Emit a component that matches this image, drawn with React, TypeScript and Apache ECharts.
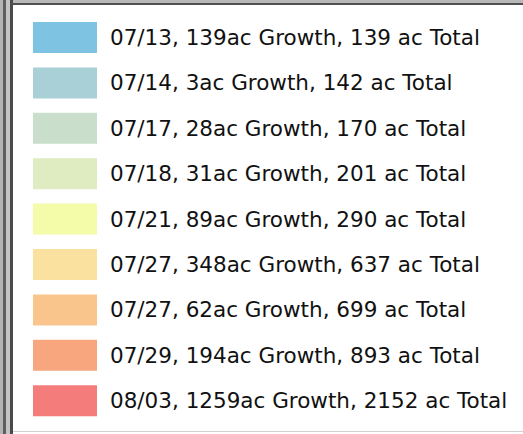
import React, { useEffect, useRef } from "react";
import * as echarts from "echarts";

const dates = ["07/13", "07/14", "07/17", "07/18", "07/21", "07/27", "07/27", "07/29", "08/03"];
const growth = [139, 3, 28, 31, 89, 348, 62, 194, 1259];
const totals = [139, 142, 170, 201, 290, 637, 699, 893, 2152];
const colors = ["#7fc3e2", "#a9cfd7", "#c9dfcc", "#dfecc1", "#f4fca9", "#fae1a0", "#f9c58d", "#f8a67e", "#f47c7a"];

const names = dates.map((d, i) => `${d}, ${growth[i]}ac Growth, ${totals[i]} ac Total`);

export default function App() {
  const ref = useRef<HTMLDivElement>(null);
  useEffect(() => {
    const chart = echarts.init(ref.current!, null, { renderer: "svg" });
    chart.setOption({
      animation: false,
      backgroundColor: "#ffffff",
      color: colors,
      graphic: [
        { type: "rect", shape: { x: 0, y: 0, width: 523, height: 434 }, style: { fill: "#ffffff" }, z: -10 },
        { type: "rect", shape: { x: 0, y: 0, width: 3, height: 434 }, style: { fill: "#b4b4b4" } },
        { type: "rect", shape: { x: 3, y: 0, width: 3, height: 434 }, style: { fill: "#5e5e5e" } },
        { type: "rect", shape: { x: 6, y: 0, width: 4, height: 434 }, style: { fill: "#c4c4c4" } },
        { type: "rect", shape: { x: 10, y: 0, width: 3, height: 434 }, style: { fill: "#4a4a4a" } },
        { type: "rect", shape: { x: 13, y: 0, width: 510, height: 3 }, style: { fill: "#b8b8b8" } },
        { type: "rect", shape: { x: 10, y: 3, width: 513, height: 2 }, style: { fill: "#505050" } },
        { type: "rect", shape: { x: 13, y: 431, width: 510, height: 1 }, style: { fill: "#cfcfcf" } },
      ],
      legend: {
        orient: "vertical",
        left: 33,
        top: 22,
        padding: 0,
        itemWidth: 64,
        itemHeight: 31,
        itemGap: 14.4,
        icon: "rect",
        selectedMode: false,
        textStyle: {
          fontFamily: "DejaVu Sans",
          fontSize: 21.5,
          color: "#111111",
          padding: [0, 0, 0, 8],
        },
        data: names,
      },
      series: [
        {
          type: "pie",
          center: [-1000, -1000],
          radius: [0, 0],
          label: { show: false },
          labelLine: { show: false },
          silent: true,
          data: names.map((n, i) => ({ name: n, value: growth[i] })),
        },
      ],
    });
    return () => chart.dispose();
  }, []);
  return <div ref={ref} style={{ width: 523, height: 434, position: "absolute", left: 0, top: 0 }} />;
}
